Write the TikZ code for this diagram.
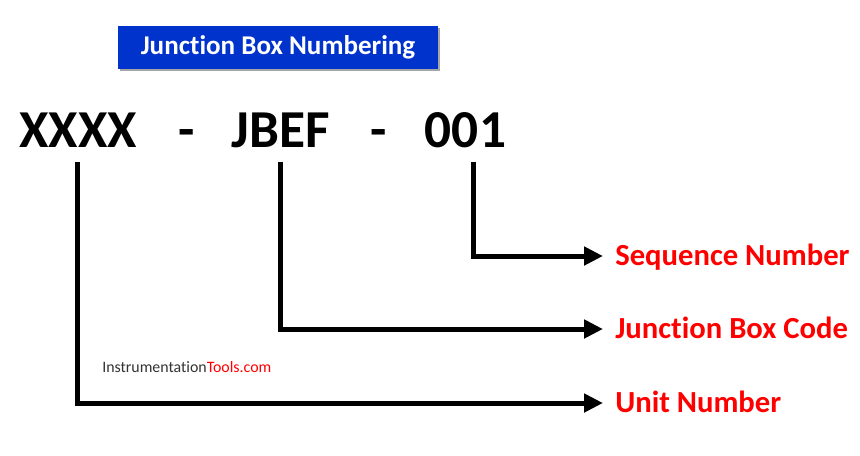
\documentclass[tikz,border=0pt]{standalone}
\usepackage{fontspec}
\setmainfont[Ligatures={NoCommon}]{Carlito}
\usetikzlibrary{arrows.meta,shadows}
\definecolor{jbblue}{RGB}{0,51,204}
\definecolor{jbred}{RGB}{255,0,0}
\definecolor{jbgray}{RGB}{51,51,51}
\begin{document}
\begin{tikzpicture}[x=0.75pt,y=-0.75pt,
  code/.style={font=\fontsize{40}{48}\selectfont\bfseries, inner sep=0pt, anchor=base},
  lab/.style={font=\fontsize{23}{28}\selectfont\bfseries, text=jbred, inner sep=0pt, anchor=west, text height=14.5pt, text depth=0pt},
  conn/.style={line width=3.75pt, -{Triangle[length=14.25pt,width=13.5pt]}, shorten >=9pt},
  titlebox/.style={fill=jbblue, text=white, font=\fontsize{20.3}{24}\selectfont\bfseries, minimum width=240pt, minimum height=32.25pt, inner sep=0pt, drop shadow={shadow xshift=1.2pt, shadow yshift=-1.2pt, fill=black, opacity=0.35}},
  wmark/.style={font=\fontsize{11.9}{14}\selectfont, inner sep=0pt, anchor=base west}]
\useasboundingbox (0,0) rectangle (860,455);
\fill[white] (0,0) rectangle (860,455);
\node[titlebox] (title) at (278,47.5) {Junction Box Numbering};
\node[code] (xxxx) at (78,147) {XXXX};
\node[code] (d1) at (186.5,147) {-};
\node[code] (jbef) at (281,147) {JBEF};
\node[code] (d2) at (379,147) {-};
\node[code] (seqn) at (465.5,147) {001};
\node[lab] (seq) at (615,256) {Sequence Number};
\node[lab] (jbc) at (615,329) {Junction Box Code};
\node[lab] (unit) at (615,403) {Unit Number};
\node[wmark] (wm) at (102,372) {{\color{jbgray}Instrumentation}{\color{jbred}Tools.com}};
\coordinate (t1) at (77,162);
\coordinate (t2) at (280,162);
\coordinate (t3) at (473.5,162);
\draw[conn] (t3) |- (seq.west);
\draw[conn] (t2) |- (jbc.west);
\draw[conn] (t1) |- (unit.west);
\end{tikzpicture}
\end{document}
